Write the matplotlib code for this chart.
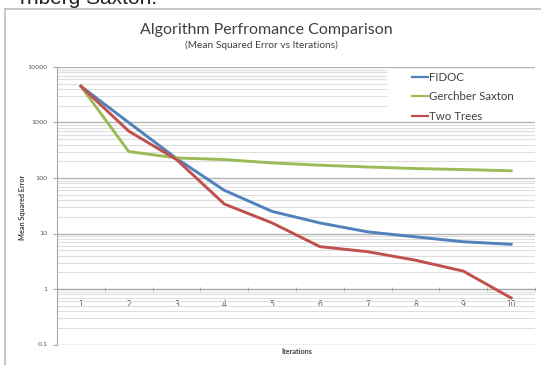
import matplotlib
matplotlib.use("Agg")
import matplotlib.pyplot as plt
from matplotlib.patches import Rectangle
from matplotlib.lines import Line2D
import numpy as np

iterations = [1, 2, 3, 4, 5, 6, 7, 8, 9, 10]
fidoc = [4500, 1000, 225, 60, 25, 15.5, 10.7, 8.7, 7.1, 6.4]
gerchberg = [4500, 300, 230, 215, 187, 170, 158, 148, 142, 135]
two_trees = [4500, 700, 215, 34, 15.5, 5.8, 4.7, 3.3, 2.1, 0.69]
series_names = ["FIDOC", "Gerchber Saxton", "Two Trees"]
series_colors = ["#4F81BD", "#9BBB59", "#C0504D"]
y_ticks = [0.1, 1, 10, 100, 1000, 10000]
y_tick_labels = ["0.1", "1", "10", "100", "1000", "10000"]

W, H = 541, 365
fig = plt.figure(figsize=(W / 100, H / 100), dpi=100)
fig.patch.set_facecolor("white")

def fx(px):
    return px / W

def fy(py):
    return 1 - py / H

# chart frame (left and top border)
fig.add_artist(Line2D([fx(5), fx(5)], [fy(9), 0], color="#bfbfbf", lw=1.2))
fig.add_artist(Line2D([fx(5), 1], [fy(9), fy(9)], color="#bfbfbf", lw=1.2))

# cut-off text at the top
fig.text(fx(157), fy(4), "rnberg Saxton.", ha="right", va="baseline",
         fontsize=15, family="Liberation Sans", color="#222222")

left, right, top, bottom = 57, 535, 67, 344.5
ax = fig.add_axes([fx(left), fy(bottom), (right - left) / W, (bottom - top) / H])
ax.set_yscale("log")
ax.set_ylim(0.1, 10000)
ax.set_xlim(0.5, 10.5)

# gridlines
ax.yaxis.set_major_locator(matplotlib.ticker.FixedLocator(y_ticks))
ax.yaxis.set_major_formatter(matplotlib.ticker.FixedFormatter(y_tick_labels))
ax.yaxis.set_minor_locator(matplotlib.ticker.LogLocator(base=10, subs=np.arange(2, 10)))
ax.yaxis.set_minor_formatter(matplotlib.ticker.NullFormatter())
ax.grid(True, which="major", axis="y", color="#b3b3b3", lw=1.0, zorder=0)
ax.grid(True, which="minor", axis="y", color="#dedede", lw=0.8, zorder=0)
ax.set_axisbelow(True)

for s in ["top", "right"]:
    ax.spines[s].set_visible(False)
ax.spines["left"].set_color("#a6a6a6")
ax.spines["bottom"].set_position(("data", 1))
ax.spines["bottom"].set_color("#a6a6a6")

ax.tick_params(axis="y", which="major", length=3, color="#a6a6a6",
               labelsize=4.6, labelcolor="#555555", pad=4)
ax.tick_params(axis="y", which="minor", length=0)

ax.set_xticks(iterations)
ax.set_xticklabels([str(i) for i in iterations])
ax.set_xticks(np.arange(0.5, 11, 1), minor=True)
ax.tick_params(axis="x", which="major", length=0, labelsize=5.5,
               labelcolor="#555555", pad=8)
ax.tick_params(axis="x", which="minor", length=2.5, direction="inout",
               color="#a6a6a6")

# legend background
ax.add_patch(Rectangle((0.69, 0.809), 0.31, 0.183, transform=ax.transAxes,
                       facecolor="white", edgecolor="none", zorder=1))

for vals, name, c in zip([fidoc, gerchberg, two_trees], series_names, series_colors):
    ax.plot(iterations, vals, color=c, lw=2.1, label=name, zorder=3,
            solid_joinstyle="round", clip_on=False)

leg = ax.legend(loc="upper left", bbox_to_anchor=(0.743, 0.982),
                frameon=False, handlelength=1.4, handletextpad=0.05,
                labelspacing=0.72, borderpad=0, borderaxespad=0,
                prop={"family": "Lato", "size": 8.3})
for t in leg.get_texts():
    t.set_color("#404040")
for l in leg.get_lines():
    l.set_linewidth(1.6)

fig.text(fx(266), fy(30), "Algorithm Perfromance Comparison", ha="center",
         va="center", fontsize=11.5, family="Lato", color="#404040")
fig.text(fx(261), fy(45), "(Mean Squared Error vs Iterations)", ha="center",
         va="center", fontsize=7.3, family="Lato", color="#404040")
fig.text(fx(22), fy(207), "Mean Squared Error", rotation=90, ha="center",
         va="center", fontsize=5.2, family="Lato", weight="bold", color="#404040")
fig.text(fx(297), fy(351), "Iterations", ha="center", va="center",
         fontsize=5.2, family="Lato", weight="bold", color="#404040")

fig.savefig("out.png", dpi=100, facecolor="white")
